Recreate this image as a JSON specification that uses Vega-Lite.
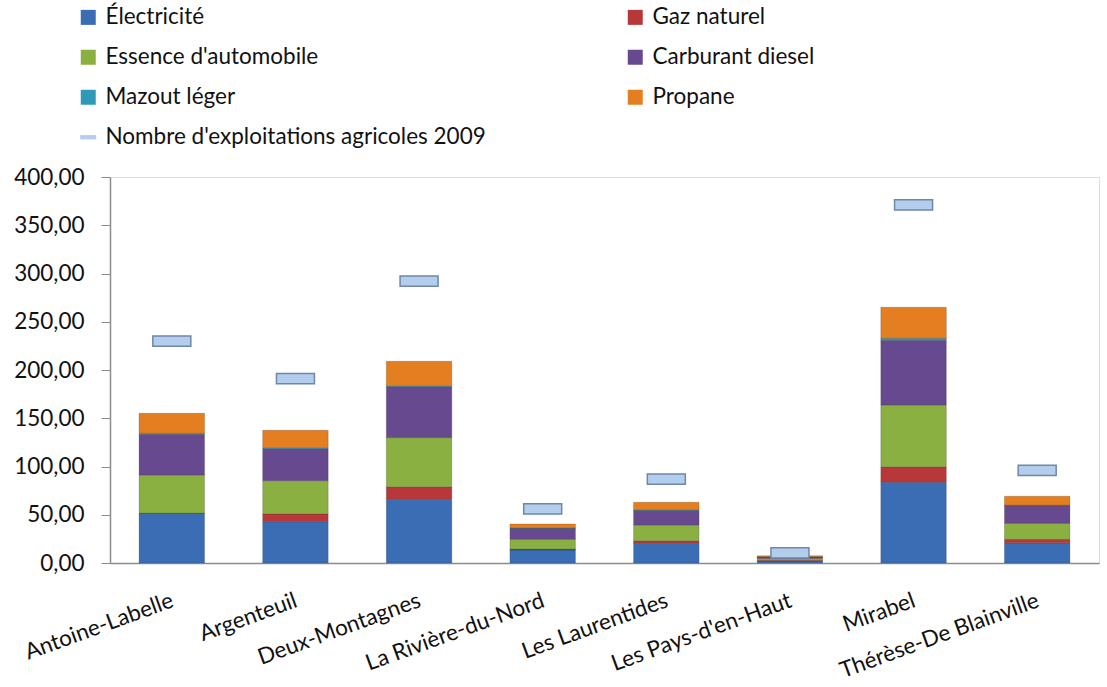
{
  "$schema": "https://vega.github.io/schema/vega-lite/v6.json",
  "autosize": "none",
  "width": 989,
  "height": 386,
  "padding": {"left": 110, "top": 177, "right": 8, "bottom": 124},
  "background": "white",
  "datasets": {
    "energie": [
      {"region": "Antoine-Labelle", "source": "Électricité", "ord": 1, "value": 51.5},
      {"region": "Antoine-Labelle", "source": "Gaz naturel", "ord": 2, "value": 0.2},
      {"region": "Antoine-Labelle", "source": "Essence d'automobile", "ord": 3, "value": 39.5},
      {"region": "Antoine-Labelle", "source": "Carburant diesel", "ord": 4, "value": 42.2},
      {"region": "Antoine-Labelle", "source": "Mazout léger", "ord": 5, "value": 1.0},
      {"region": "Antoine-Labelle", "source": "Propane", "ord": 6, "value": 20.7},
      {"region": "Argenteuil", "source": "Électricité", "ord": 1, "value": 42.8},
      {"region": "Argenteuil", "source": "Gaz naturel", "ord": 2, "value": 8.0},
      {"region": "Argenteuil", "source": "Essence d'automobile", "ord": 3, "value": 34.5},
      {"region": "Argenteuil", "source": "Carburant diesel", "ord": 4, "value": 33.2},
      {"region": "Argenteuil", "source": "Mazout léger", "ord": 5, "value": 1.0},
      {"region": "Argenteuil", "source": "Propane", "ord": 6, "value": 18.0},
      {"region": "Deux-Montagnes", "source": "Électricité", "ord": 1, "value": 66.0},
      {"region": "Deux-Montagnes", "source": "Gaz naturel", "ord": 2, "value": 13.0},
      {"region": "Deux-Montagnes", "source": "Essence d'automobile", "ord": 3, "value": 50.9},
      {"region": "Deux-Montagnes", "source": "Carburant diesel", "ord": 4, "value": 52.9},
      {"region": "Deux-Montagnes", "source": "Mazout léger", "ord": 5, "value": 1.0},
      {"region": "Deux-Montagnes", "source": "Propane", "ord": 6, "value": 25.2},
      {"region": "La Rivière-du-Nord", "source": "Électricité", "ord": 1, "value": 13.5},
      {"region": "La Rivière-du-Nord", "source": "Gaz naturel", "ord": 2, "value": 1.0},
      {"region": "La Rivière-du-Nord", "source": "Essence d'automobile", "ord": 3, "value": 10.0},
      {"region": "La Rivière-du-Nord", "source": "Carburant diesel", "ord": 4, "value": 11.5},
      {"region": "La Rivière-du-Nord", "source": "Mazout léger", "ord": 5, "value": 0.3},
      {"region": "La Rivière-du-Nord", "source": "Propane", "ord": 6, "value": 4.1},
      {"region": "Les Laurentides", "source": "Électricité", "ord": 1, "value": 20.4},
      {"region": "Les Laurentides", "source": "Gaz naturel", "ord": 2, "value": 2.7},
      {"region": "Les Laurentides", "source": "Essence d'automobile", "ord": 3, "value": 16.3},
      {"region": "Les Laurentides", "source": "Carburant diesel", "ord": 4, "value": 15.0},
      {"region": "Les Laurentides", "source": "Mazout léger", "ord": 5, "value": 0.5},
      {"region": "Les Laurentides", "source": "Propane", "ord": 6, "value": 8.0},
      {"region": "Les Pays-d'en-Haut", "source": "Électricité", "ord": 1, "value": 2.0},
      {"region": "Les Pays-d'en-Haut", "source": "Gaz naturel", "ord": 2, "value": 0.8},
      {"region": "Les Pays-d'en-Haut", "source": "Essence d'automobile", "ord": 3, "value": 1.8},
      {"region": "Les Pays-d'en-Haut", "source": "Carburant diesel", "ord": 4, "value": 1.7},
      {"region": "Les Pays-d'en-Haut", "source": "Mazout léger", "ord": 5, "value": 0.2},
      {"region": "Les Pays-d'en-Haut", "source": "Propane", "ord": 6, "value": 1.0},
      {"region": "Mirabel", "source": "Électricité", "ord": 1, "value": 83.6},
      {"region": "Mirabel", "source": "Gaz naturel", "ord": 2, "value": 16.2},
      {"region": "Mirabel", "source": "Essence d'automobile", "ord": 3, "value": 63.9},
      {"region": "Mirabel", "source": "Carburant diesel", "ord": 4, "value": 67.1},
      {"region": "Mirabel", "source": "Mazout léger", "ord": 5, "value": 2.0},
      {"region": "Mirabel", "source": "Propane", "ord": 6, "value": 32.2},
      {"region": "Thérèse-De Blainville", "source": "Électricité", "ord": 1, "value": 21.0},
      {"region": "Thérèse-De Blainville", "source": "Gaz naturel", "ord": 2, "value": 3.5},
      {"region": "Thérèse-De Blainville", "source": "Essence d'automobile", "ord": 3, "value": 16.5},
      {"region": "Thérèse-De Blainville", "source": "Carburant diesel", "ord": 4, "value": 18.5},
      {"region": "Thérèse-De Blainville", "source": "Mazout léger", "ord": 5, "value": 0.5},
      {"region": "Thérèse-De Blainville", "source": "Propane", "ord": 6, "value": 9.2}
    ],
    "exploitations": [
      {"region": "Antoine-Labelle", "count": 230},
      {"region": "Argenteuil", "count": 191},
      {"region": "Deux-Montagnes", "count": 292},
      {"region": "La Rivière-du-Nord", "count": 56},
      {"region": "Les Laurentides", "count": 87},
      {"region": "Les Pays-d'en-Haut", "count": 10.5},
      {"region": "Mirabel", "count": 371},
      {"region": "Thérèse-De Blainville", "count": 96}
    ]
  },
  "encoding": {
    "x": {
      "field": "region",
      "type": "nominal",
      "sort": null,
      "scale": {"paddingInner": 0.47, "paddingOuter": 0.235},
      "axis": {
        "title": null,
        "labelAngle": -20,
        "labelAlign": "right",
        "labelBaseline": "top",
        "labelFont": "Lato",
        "labelFontSize": 22.5,
        "labelColor": "#111111",
        "labelPadding": 26,
        "labelOffset": -3,
        "labelLimit": 400,
        "ticks": false,
        "domainColor": "#8c8c8c",
        "domainWidth": 1.5
      }
    }
  },
  "layer": [
    {
      "data": {"name": "energie"},
      "mark": {"type": "bar", "stroke": "#2a2a2a", "strokeWidth": 0.4, "strokeOpacity": 0.5},
      "encoding": {
        "y": {
          "field": "value",
          "type": "quantitative",
          "stack": "zero",
          "scale": {"domain": [0, 400], "nice": false},
          "axis": {
            "title": null,
            "values": [0, 50, 100, 150, 200, 250, 300, 350, 400],
            "labelExpr": "replace(format(datum.value, '.2f'), '.', ',')",
            "labelFont": "Lato",
            "labelFontSize": 22.5,
            "labelColor": "#111111",
            "labelPadding": 17,
            "tickSize": 9,
            "tickColor": "#8c8c8c",
            "domainColor": "#8c8c8c",
            "domainWidth": 1.5,
            "grid": false
          }
        },
        "order": {"field": "ord", "type": "quantitative"},
        "color": {
          "field": "source",
          "type": "nominal",
          "scale": {
            "domain": ["Électricité", "Gaz naturel", "Essence d'automobile", "Carburant diesel", "Mazout léger", "Propane"],
            "range": ["#3a6db3", "#b8383a", "#8bb042", "#67498f", "#2f9ab8", "#e37f20"]
          },
          "legend": {
            "title": null,
            "orient": "none",
            "direction": "horizontal",
            "legendX": -33,
            "legendY": -171,
            "columns": 2,
            "columnPadding": 305,
            "rowPadding": 17,
            "symbolType": "square",
            "symbolSize": 225,
            "symbolStrokeWidth": 0,
            "labelFont": "Lato",
            "labelFontSize": 22.5,
            "labelColor": "#111111",
            "labelOffset": 6,
            "labelLimit": 600
          }
        }
      }
    },
    {
      "data": {"name": "exploitations"},
      "mark": {"type": "point", "filled": true, "fill": "#b3cdec", "stroke": "#6f87ab", "strokeWidth": 1.5, "opacity": 1, "size": 1444},
      "encoding": {
        "y": {"field": "count", "type": "quantitative"},
        "shape": {
          "datum": "Nombre d'exploitations agricoles 2009",
          "scale": {"range": ["M-1,-0.27H1V0.27H-1Z"]},
          "legend": {
            "title": null,
            "orient": "none",
            "legendX": -33,
            "legendY": -51,
            "symbolSize": 256,
            "symbolFillColor": "#b3cdec",
            "symbolStrokeColor": "#6f87ab",
            "symbolStrokeWidth": 1,
            "labelFont": "Lato",
            "labelFontSize": 22.5,
            "labelColor": "#111111",
            "labelOffset": 6,
            "labelLimit": 600
          }
        }
      }
    }
  ]
}
